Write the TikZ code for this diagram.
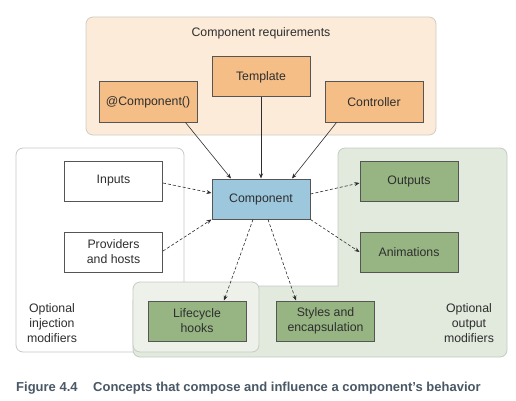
\documentclass[tikz,border=0pt]{standalone}
\usepackage{fontspec}
\setmainfont{Liberation Sans}
\usetikzlibrary{arrows.meta}
\definecolor{toppanel}{HTML}{FBEBD8}
\definecolor{toppanelb}{HTML}{D3CCC4}
\definecolor{orangebox}{HTML}{F5BE87}
\definecolor{bluebox}{HTML}{9CC7DC}
\definecolor{greenbox}{HTML}{97B583}
\definecolor{greenpanel}{HTML}{E2E9DD}
\definecolor{greenpanelb}{HTML}{C5CCC1}
\definecolor{lifepanel}{HTML}{EDF1EA}
\definecolor{whitepanelb}{HTML}{C8C8C8}
\definecolor{boxb}{HTML}{555555}
\definecolor{txt}{HTML}{2E2E2E}
\definecolor{captxt}{HTML}{4A5866}
\tikzset{
  every node/.style={font=\fontsize{12.3}{15}\selectfont, text=txt},
  box/.style={draw=boxb, line width=1pt, minimum width=98pt, minimum height=40pt, inner sep=0pt, align=center},
  obox/.style={box, fill=orangebox},
  bbox/.style={box, fill=bluebox},
  gbox/.style={box, fill=greenbox},
  wbox/.style={box, fill=white},
  arr/.style={draw=txt, line width=0.6pt, -{Stealth[length=5pt,width=4pt]}},
  darr/.style={arr, dash pattern=on 3pt off 2pt},
  lbl/.style={align=center}
}
\begin{document}
\begin{tikzpicture}[x=1pt,y=-1pt]
\useasboundingbox[fill=white] (0,0) rectangle (516,401);
% panels
\draw[fill=toppanel, draw=toppanelb, line width=0.8pt, rounded corners=7pt] (86,17) rectangle (436,135);
\fill[greenpanel] (338,286) [rounded corners=7pt] -- (338,148) -- (507,148) -- (507,357) -- (133,357) [sharp corners] -- (133,286) -- cycle;
\draw[greenpanelb, line width=0.8pt, rounded corners=7pt] (338,286) -- (338,148) -- (507,148) -- (507,357) -- (133,357) -- (133,300);
\draw[whitepanelb, line width=0.8pt] (338,286) -- (184,286) [rounded corners=7pt] -- (184,148) -- (16,148) -- (16,352) [sharp corners] -- (133,352);
\draw[fill=lifepanel, draw=greenpanelb, line width=0.8pt, rounded corners=7pt] (133,282) rectangle (259,352);
% labels
\node[lbl] (reqlbl) at (261,33) {Component requirements};
\node[lbl] (injlbl) at (52,323) {Optional\\injection\\modifiers};
\node[lbl] (outlbl) at (469,323) {Optional\\output\\modifiers};
% boxes
\node[obox] (atc) at (148,102) {@Component()};
\node[obox] (tmpl) at (261,77) {Template};
\node[obox] (ctrl) at (374,102) {Controller};
\node[bbox] (comp) at (261,199) {Component};
\node[wbox] (inp) at (113.5,181) {Inputs};
\node[wbox] (prov) at (113.5,252) {Providers\\and hosts};
\node[gbox] (outp) at (409,181) {Outputs};
\node[gbox] (anim) at (409,252) {Animations};
\node[gbox] (life) at (197,321) {Lifecycle\\hooks};
\node[gbox] (styl) at (325.5,321) {Styles and\\encapsulation};
% connectors
\draw[arr] ([xshift=-12pt]atc.south east) -- ([xshift=-30pt]comp.north);
\draw[arr] (tmpl.south) -- (comp.north);
\draw[arr] ([xshift=12pt]ctrl.south west) -- ([xshift=31pt]comp.north);
\draw[darr] ([yshift=-2pt]inp.east) -- ([yshift=6pt]comp.west);
\draw[darr] ([yshift=1pt]prov.east) -- (comp.south west);
\draw[darr] ([yshift=5pt]comp.east) -- ([yshift=-2pt]outp.west);
\draw[darr] (comp.south east) -- (anim.west);
\draw[darr] ([xshift=-8pt]comp.south) -- ([xshift=27pt]life.north);
\draw[darr] ([xshift=7pt]comp.south) -- ([xshift=-29.5pt]styl.north);
% caption
\node[anchor=west, inner sep=0pt, text=captxt, font=\fontsize{13}{15}\selectfont\bfseries] (cap) at (16,388) {Figure 4.4\hspace{1.2em}Concepts that compose and influence a component’s behavior};
\end{tikzpicture}
\end{document}
